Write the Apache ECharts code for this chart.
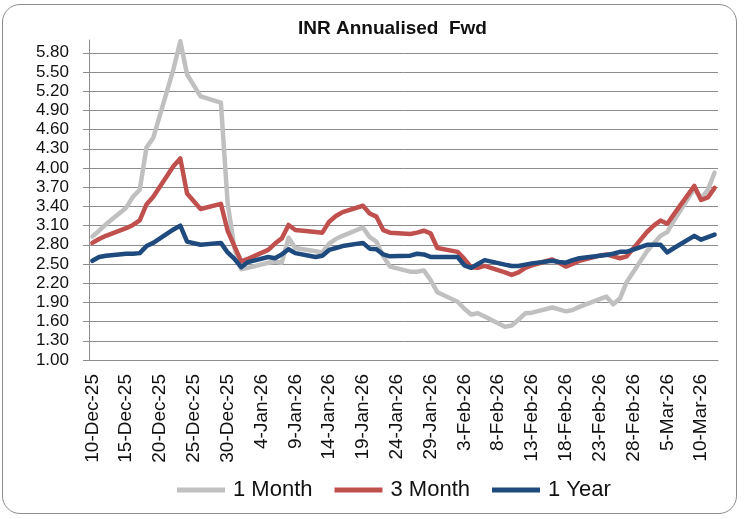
<!DOCTYPE html>
<html>
<head>
<meta charset="utf-8">
<title>INR Annualised Fwd</title>
<script src="https://cdn.jsdelivr.net/npm/echarts@6/dist/echarts.min.js"></script>
<style>
  html, body { margin: 0; padding: 0; background: #fff; }
  #wrap { position: relative; width: 747px; height: 519px; }
  #frame {
    position: absolute; left: 2px; top: 4px; width: 735px; height: 510px;
    border: 1.5px solid #8c8c8c; border-radius: 18px; box-sizing: border-box;
  }
  #chart { position: absolute; left: 0; top: 0; width: 747px; height: 519px; }
</style>
</head>
<body>
<div id="wrap">
  <div id="frame"></div>
  <div id="chart"></div>
</div>
<script>
// trading days shown in the chart
const dates = [
  '2025-12-10', '2025-12-11', '2025-12-12', '2025-12-15', '2025-12-16', '2025-12-17', '2025-12-18', '2025-12-19',
  '2025-12-22', '2025-12-23', '2025-12-24', '2025-12-26', '2025-12-29', '2025-12-30', '2025-12-31',
  '2026-01-01', '2026-01-02', '2026-01-05', '2026-01-06', '2026-01-07', '2026-01-08', '2026-01-09',
  '2026-01-12', '2026-01-13', '2026-01-14', '2026-01-15', '2026-01-16', '2026-01-19', '2026-01-20',
  '2026-01-21', '2026-01-22', '2026-01-23', '2026-01-26', '2026-01-27', '2026-01-28', '2026-01-29', '2026-01-30',
  '2026-02-02', '2026-02-03', '2026-02-04', '2026-02-05', '2026-02-06', '2026-02-09', '2026-02-10',
  '2026-02-11', '2026-02-12', '2026-02-13', '2026-02-16', '2026-02-17', '2026-02-18', '2026-02-19', '2026-02-20',
  '2026-02-23', '2026-02-24', '2026-02-25', '2026-02-26', '2026-02-27',
  '2026-03-02', '2026-03-03', '2026-03-04', '2026-03-05', '2026-03-06', '2026-03-09', '2026-03-10', '2026-03-11', '2026-03-12'
]

const oneMonth = [
  2.93, 3.02, 3.12, 3.38, 3.55, 3.66, 4.32, 4.47, 5.55, 5.98, 5.46, 5.12, 5.02, 3.45, 2.75,
  2.42, 2.44, 2.52, 2.54, 2.52, 2.91, 2.75, 2.70, 2.68, 2.82, 2.89, 2.94, 3.07, 2.92, 2.85, 2.62, 2.46, 2.38, 2.38, 2.40, 2.25, 2.06,
  1.91, 1.80, 1.71, 1.73, 1.68, 1.52, 1.54, 1.63, 1.73, 1.74, 1.82, 1.79, 1.76, 1.78, 1.83, 1.95, 1.99, 1.87, 1.96, 2.22,
  2.70, 2.82, 2.94, 3.00, 3.18, 3.68, 3.52, 3.66, 3.93
]

const threeMonth = [
  2.83, 2.89, 2.94, 3.06, 3.11, 3.18, 3.43, 3.55, 4.03, 4.15, 3.60, 3.36, 3.44, 3.02, 2.78,
  2.54, 2.58, 2.72, 2.82, 2.90, 3.11, 3.03, 3.00, 2.99, 3.16, 3.25, 3.31, 3.41, 3.29, 3.24, 3.03, 2.99, 2.97, 2.99, 3.02, 2.98, 2.75,
  2.69, 2.58, 2.45, 2.44, 2.47, 2.37, 2.33, 2.37, 2.44, 2.48, 2.57, 2.52, 2.46, 2.50, 2.55, 2.63, 2.65, 2.62, 2.59, 2.62,
  3.00, 3.10, 3.18, 3.13, 3.28, 3.72, 3.50, 3.54, 3.69
]

const oneYear = [
  2.55, 2.61, 2.63, 2.66, 2.66, 2.67, 2.78, 2.83, 3.04, 3.10, 2.85, 2.80, 2.83, 2.68, 2.58,
  2.45, 2.53, 2.61, 2.59, 2.65, 2.73, 2.67, 2.61, 2.63, 2.72, 2.75, 2.78, 2.83, 2.74, 2.73, 2.65, 2.62, 2.63, 2.66, 2.65, 2.61, 2.61,
  2.61, 2.48, 2.44, 2.50, 2.56, 2.49, 2.47, 2.47, 2.49, 2.51, 2.55, 2.53, 2.52, 2.56, 2.59, 2.63, 2.64, 2.66, 2.69, 2.69,
  2.80, 2.80, 2.80, 2.68, 2.75, 2.94, 2.88, 2.92, 2.96
]

const months = ['Jan', 'Feb', 'Mar', 'Apr', 'May', 'Jun', 'Jul', 'Aug', 'Sep', 'Oct', 'Nov', 'Dec']
const fmt = d => d.getUTCDate() + '-' + months[d.getUTCMonth()] + '-' + String(d.getUTCFullYear()).slice(2)

// the axis runs over every calendar day, like Excel's date axis
const days = []
for (let t = Date.UTC(2025, 11, 10); t <= Date.UTC(2026, 2, 12); t += 86400000) {
  days.push(fmt(new Date(t)))
}

const toPairs = vals => dates.map((d, i) => [fmt(new Date(d + 'T00:00:00Z')), vals[i]])

const font = 'Liberation Sans'
const chart = echarts.init(document.getElementById('chart'))

const mkLine = (name, vals, color) => ({
  name,
  type: 'line',
  data: toPairs(vals),
  symbol: 'none',
  smooth: false,
  lineStyle: { width: 4.5, color, cap: 'round', join: 'round' },
  itemStyle: { color }
})

chart.setOption({
  animation: false,
  title: {
    text: 'INR Annualised  Fwd',
    left: 293,
    top: 14,
    textStyle: { fontFamily: font, fontSize: 19, fontWeight: 'bold', color: '#111' }
  },
  legend: {
    bottom: 13,
    left: 172,
    icon: 'rect',
    itemWidth: 48,
    itemHeight: 5,
    itemGap: 22,
    textStyle: { fontFamily: font, fontSize: 22, color: '#111', padding: [0, 0, 0, 3] },
    data: ['1 Month', '3 Month', '1 Year']
  },
  grid: { left: 89, right: 29, top: 40, bottom: 159, outerBoundsMode: 'none' },
  xAxis: {
    type: 'category',
    data: days,
    boundaryGap: true,
    axisLine: { lineStyle: { color: '#8c8c8c', width: 1 } },
    axisTick: { interval: 4, length: 6, lineStyle: { color: '#8c8c8c' } },
    axisLabel: {
      interval: 4,
      rotate: 90,
      margin: 14,
      fontFamily: font,
      fontSize: 19,
      color: '#111'
    },
    splitLine: { show: false }
  },
  yAxis: {
    type: 'value',
    min: 1.0,
    max: 6.0,
    interval: 0.3,
    axisLine: { show: true, lineStyle: { color: '#8c8c8c', width: 1 } },
    axisTick: { show: true, length: 6, lineStyle: { color: '#8c8c8c' } },
    axisLabel: {
      margin: 20,
      showMaxLabel: false,
      fontFamily: font,
      fontSize: 17,
      color: '#111',
      formatter: v => v.toFixed(2)
    },
    splitLine: { showMaxLine: false, lineStyle: { color: '#8c8c8c', width: 1 } }
  },
  series: [
    mkLine('1 Month', oneMonth, '#c0c0c0'),
    mkLine('3 Month', threeMonth, '#c0504d'),
    mkLine('1 Year', oneYear, '#1f4a7d')
  ]
})
</script>
</body>
</html>
